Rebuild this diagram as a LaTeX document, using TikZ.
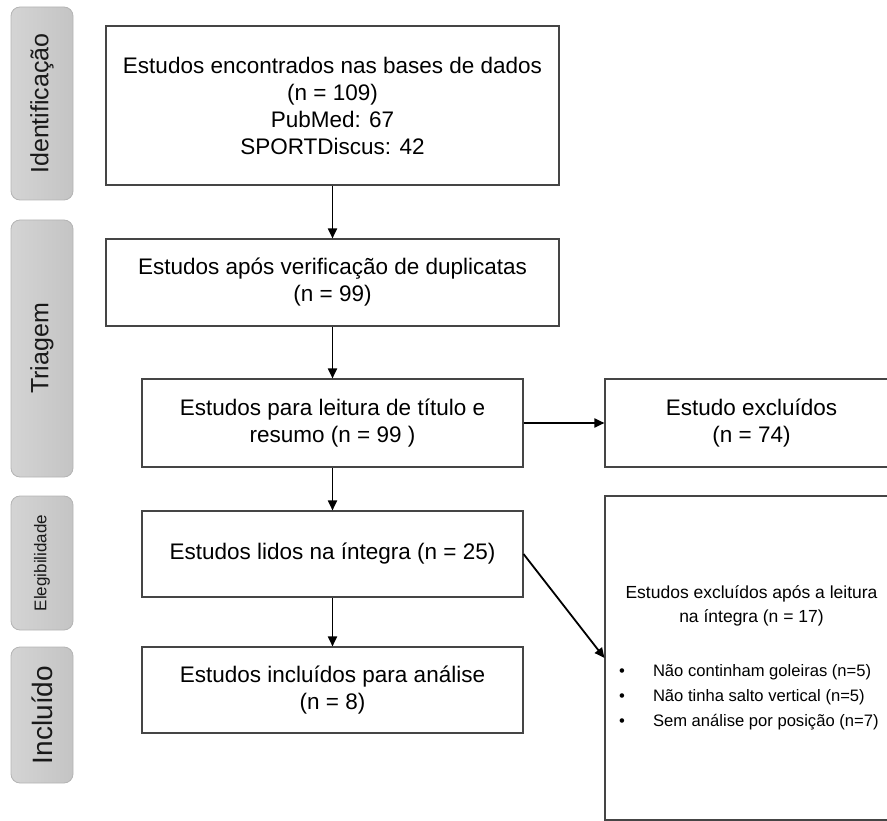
\documentclass[tikz,border=0pt]{standalone}
\usepackage{fontspec}
\setmainfont{Liberation Sans}
\usetikzlibrary{arrows.meta}
\definecolor{etapaclara}{HTML}{D4D4D4}
\definecolor{etapaescura}{HTML}{C4C4C4}
\definecolor{etapaborda}{HTML}{B4B4B4}
\definecolor{bordacaixa}{HTML}{454545}
\begin{document}
\begin{tikzpicture}[x=1pt,y=-1pt,
  caixa/.style={draw=bordacaixa,line width=1.1pt,align=center,inner sep=0pt,
    font=\fontsize{22.5}{27}\selectfont},
  etapa/.style={draw=etapaborda,line width=0.8pt,rounded corners=9pt,
    left color=etapaclara,right color=etapaescura,minimum width=62pt,inner sep=0pt,
    text=black!90},
  seta/.style={-{Triangle[length=10pt,width=9pt]},line width=1.8pt}]
\useasboundingbox (0,0) rectangle (887,821);
% fases (coluna da esquerda)
\node[etapa,minimum height=193pt] (ident) at (42,103.5) {\rotatebox{90}{\fontsize{25}{30}\selectfont Identificação}};
\node[etapa,minimum height=257pt] (triag) at (42,348.5) {\rotatebox{90}{\fontsize{25}{30}\selectfont Triagem}};
\node[etapa,minimum height=134pt] (elegi) at (42,563) {\rotatebox{90}{\fontsize{17}{20}\selectfont Elegibilidade}};
\node[etapa,minimum height=136pt] (inclu) at (42,715) {\rotatebox{90}{\fontsize{28}{32}\selectfont Incluído}};
% caixas principais
\node[caixa,minimum width=453pt,minimum height=159pt] (encontrados) at (332.5,105.5)
  {Estudos encontrados nas bases de dados\\(n = 109)\\PubMed: 67\\SPORTDiscus: 42};
\node[caixa,minimum width=453pt,minimum height=87pt] (duplicatas) at (332.5,282.5)
  {Estudos após verificação de duplicatas\\(n = 99)};
\node[caixa,minimum width=381pt,minimum height=88pt] (titulo) at (332.5,423)
  {Estudos para leitura de título e\\resumo (n = 99 )};
\node[caixa,minimum width=381pt,minimum height=86pt] (integra) at (332.5,554)
  {Estudos lidos na íntegra (n = 25)};
\node[caixa,minimum width=381pt,minimum height=86pt] (incluidos) at (332.5,690)
  {Estudos incluídos para análise\\(n = 8)};
% excluidos
\node[caixa,minimum width=293pt,minimum height=88pt] (excl1) at (751.5,423)
  {Estudo excluídos\\(n = 74)};
\node[caixa,minimum width=293pt,minimum height=324pt] (excl2) at (751.5,658)
  {\begin{minipage}{265pt}\fontsize{17.5}{24}\selectfont
   {\centering Estudos excluídos após a leitura\\na íntegra (n = 17)\par}
   \vspace{29pt}
   {\raggedright\fontsize{16.6}{25}\selectfont
   \mbox{\makebox[34pt][l]{•}Não continham goleiras (n=5)}\par
   \mbox{\makebox[34pt][l]{•}Não tinha salto vertical (n=5)}\par
   \mbox{\makebox[34pt][l]{•}Sem análise por posição (n=7)}\par}
   \end{minipage}};
% setas
\draw[seta] (encontrados) -- (duplicatas);
\draw[seta] (duplicatas) -- (titulo);
\draw[seta] (titulo) -- (integra);
\draw[seta] (integra) -- (incluidos);
\draw[seta] (titulo.east) -- (excl1.west);
\draw[seta] (integra.east) -- (excl2.west);
\end{tikzpicture}
\end{document}
